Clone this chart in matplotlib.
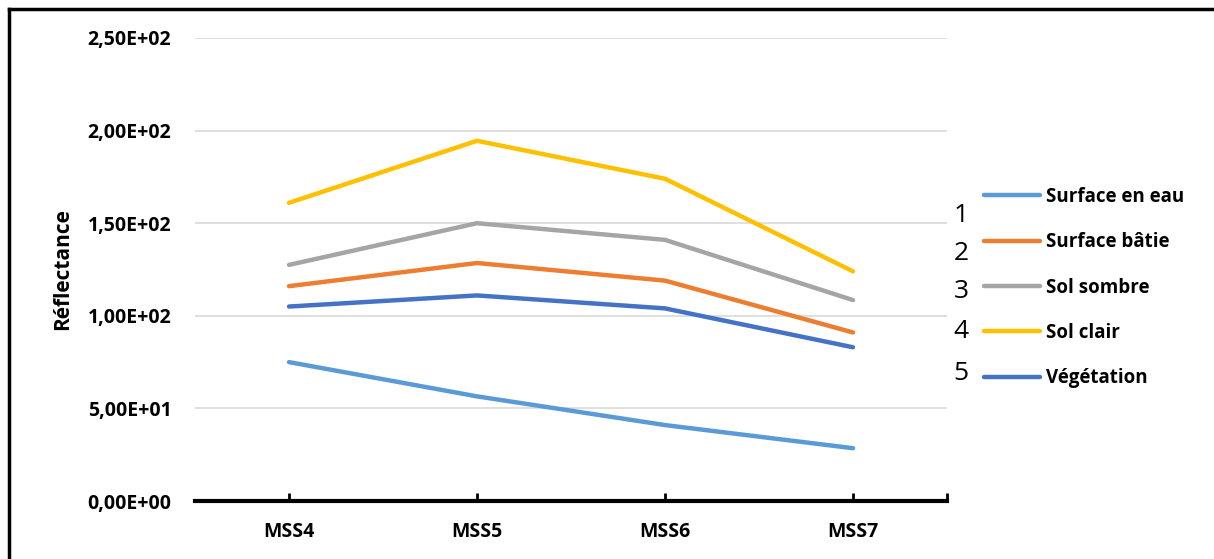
import matplotlib
matplotlib.use("Agg")
import matplotlib.pyplot as plt
from matplotlib.lines import Line2D
from matplotlib.ticker import FuncFormatter

categories = ["MSS4", "MSS5", "MSS6", "MSS7"]
series_names = ["Surface en eau", "Surface bâtie", "Sol sombre", "Sol clair", "Végétation"]
surface_eau = [75, 56.5, 41, 28.5]
surface_batie = [116, 128.5, 119, 91]
sol_sombre = [127.5, 150, 141, 108.5]
sol_clair = [161, 194.5, 174, 124]
vegetation = [105, 111, 104, 83]
legend_numbers = ["1", "2", "3", "4", "5"]

colors = ["#5B9BD5", "#ED7D31", "#A5A5A5", "#FFC000", "#4472C4"]
FONT = ["Open Sans", "DejaVu Sans"]

fig = plt.figure(figsize=(12.14, 5.59), dpi=100)
ax = fig.add_axes([195/1214, 1-501/559, (947-195)/1214, (501-38)/559])

xs = [i + 0.5 for i in range(len(categories))]
all_series = [surface_eau, surface_batie, sol_sombre, sol_clair, vegetation]
handles = []
for name, vals, c in zip(series_names, all_series, colors):
    h, = ax.plot(xs, vals, color=c, lw=3.2, solid_capstyle="round", label=name)
    handles.append(h)

ax.set_xlim(0, 4)
ax.set_ylim(0, 250)
ax.set_yticks(range(0, 251, 50))
ax.yaxis.set_major_formatter(FuncFormatter(lambda v, p: ("%.2E" % v).replace(".", ",")))
ax.grid(axis="y", color="#D9D9D9", lw=1.2)
ax.set_axisbelow(True)
for s in ["top", "right", "left"]:
    ax.spines[s].set_visible(False)
ax.spines["bottom"].set_linewidth(3)
ax.spines["bottom"].set_color("black")
ax.set_xticks(xs + [4])
ax.set_xticklabels(categories + [""])
ax.tick_params(axis="x", length=6, width=2, direction="in", pad=15, colors="black")
ax.tick_params(axis="y", length=0, pad=17)
for lab in ax.get_xticklabels() + ax.get_yticklabels():
    lab.set_fontfamily(FONT)
    lab.set_fontweight("bold")
    lab.set_fontsize(14)
ax.set_ylabel("Réflectance", fontfamily=FONT, fontweight="bold", fontsize=15, labelpad=10)

leg = fig.legend(handles=handles, labels=series_names, loc="upper left",
                 bbox_to_anchor=(984/1214, 1-187/559), frameon=False,
                 prop={"family": FONT, "weight": "bold", "size": 13.5},
                 handlelength=3.0, handletextpad=0.3, labelspacing=1.35,
                 borderaxespad=0, borderpad=0)

num_y = [216, 254, 292, 331, 374]
for n, y in zip(legend_numbers, num_y):
    fig.text(961/1214, 1-y/559, n, ha="center", va="center", fontsize=19, fontfamily=FONT)

fig.add_artist(Line2D([9/1214, 9/1214], [0, 1-9/559], transform=fig.transFigure, color="black", lw=2.5))
fig.add_artist(Line2D([9/1214, 1], [1-9/559, 1-9/559], transform=fig.transFigure, color="black", lw=2.5))

fig.savefig("out.png", dpi=100)
